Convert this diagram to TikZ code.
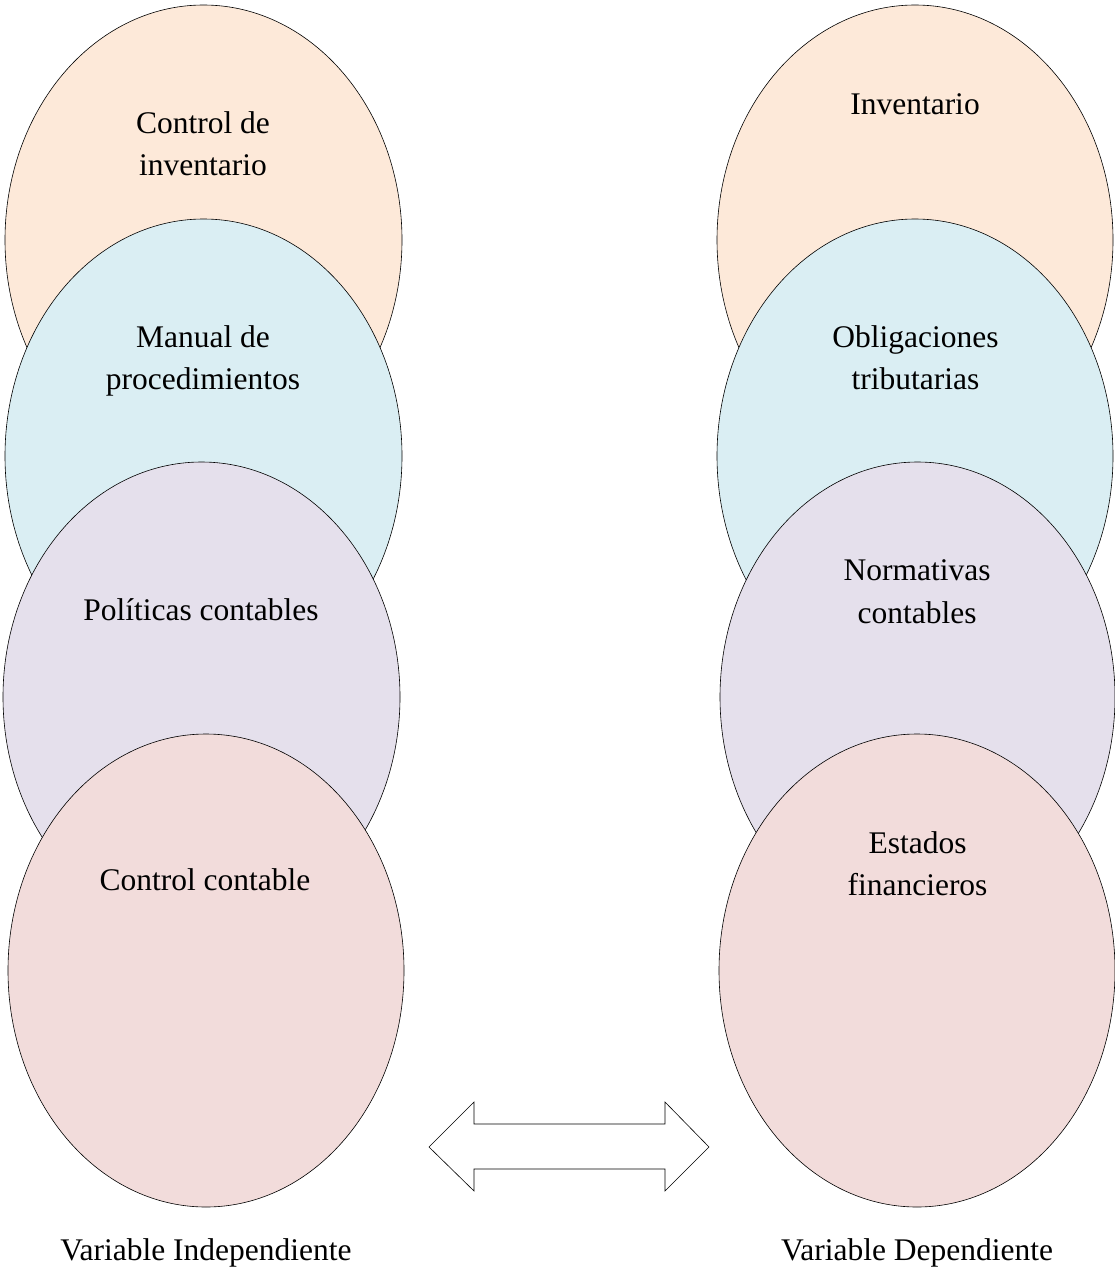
\documentclass[tikz,border=0pt]{standalone}
\usepackage{fontspec}
\setmainfont{Liberation Serif}
\usetikzlibrary{shapes.geometric}

\definecolor{peach}{HTML}{FDE9D9}
\definecolor{aqua}{HTML}{DAEEF3}
\definecolor{lilac}{HTML}{E5E0EC}
\definecolor{rose}{HTML}{F2DCDB}

\tikzset{
  oval/.style={ellipse, draw=black, line width=0.6pt, inner sep=0pt, outer sep=0pt},
  lbl/.style={align=center, inner sep=0pt, font=\fontsize{31.5}{42.5}\selectfont},
}

\begin{document}
\begin{tikzpicture}[x=1pt, y=-1pt]
  \useasboundingbox (0,0) rectangle (1115,1268);

  % independent variable column
  \node[oval, fill=peach, minimum width=397pt, minimum height=470pt] (l1) at (203.5,240) {};
  \node[lbl] (l1t) at (203,143.8) {Control de\\inventario};
  \node[oval, fill=aqua, minimum width=397pt, minimum height=474pt] (l2) at (203.5,456) {};
  \node[lbl] (l2t) at (203,361) {Manual de\\procedimientos};
  \node[oval, fill=lilac, minimum width=397pt, minimum height=470pt] (l3) at (201.5,697) {};
  \node[lbl, anchor=base] (l3t) at (201,620) {Políticas contables};
  \node[oval, fill=rose, minimum width=396pt, minimum height=473pt] (l4) at (206,970.5) {};
  \node[lbl, anchor=base] (l4t) at (205,890) {Control contable};

  % dependent variable column
  \node[oval, fill=peach, minimum width=396pt, minimum height=470pt] (r1) at (915,240) {};
  \node[lbl, anchor=base] (r1t) at (915,115) {Inventario};
  \node[oval, fill=aqua, minimum width=396pt, minimum height=474pt] (r2) at (915,456) {};
  \node[lbl] (r2t) at (915.5,357.8) {Obligaciones\\tributarias};
  \node[oval, fill=lilac, minimum width=395pt, minimum height=470pt] (r3) at (917.5,697) {};
  \node[lbl] (r3t) at (917,591.8) {Normativas\\contables};
  \node[oval, fill=rose, minimum width=396pt, minimum height=473pt] (r4) at (917,970.5) {};
  \node[lbl] (r4t) at (917.5,863.8) {Estados\\financieros};

  % two-headed block arrow between the columns
  \draw[line width=0.6pt, fill=white, line join=miter]
    (429,1147) -- (474,1102) -- (474,1124) -- (665,1124) -- (665,1102)
    -- (709,1147) -- (665,1191) -- (665,1169) -- (474,1169) -- (474,1191) -- cycle;

  % column captions
  \node[lbl, anchor=base] (capl) at (206,1260) {Variable Independiente};
  \node[lbl, anchor=base] (capr) at (917,1260) {Variable Dependiente};
\end{tikzpicture}
\end{document}
